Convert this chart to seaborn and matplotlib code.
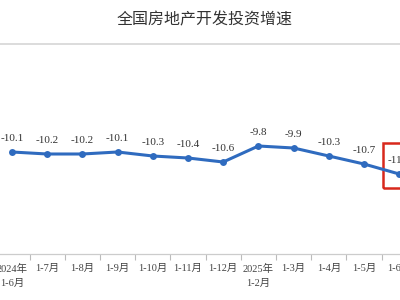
import matplotlib
matplotlib.use("Agg")
import matplotlib.pyplot as plt
import seaborn as sns
import pandas as pd
from matplotlib.patches import Rectangle
from matplotlib.lines import Line2D

categories = ["2024年\n1-6月", "1-7月", "1-8月", "1-9月", "1-10月", "1-11月",
              "1-12月", "2025年\n1-2月", "1-3月", "1-4月", "1-5月", "1-6月"]
values = [-10.1, -10.2, -10.2, -10.1, -10.3, -10.4, -10.6, -9.8, -9.9, -10.3, -10.7, -11.2]
title = "全国房地产开发投资增速"

df = pd.DataFrame({"idx": range(len(categories)), "val": values})

sns.set_theme(style="white")
plt.rcParams['font.family'] = ['Liberation Serif', 'Noto Sans CJK SC', 'DejaVu Sans']

W, H = 400, 300
fig = plt.figure(figsize=(4, 3), dpi=100)
fig.patch.set_facecolor("white")

# axes: bottom at y=254px, top at y=45px
ax = fig.add_axes([0, (H - 254) / H, 1, (254 - 45) / H])
ax.set_facecolor("white")

sns.lineplot(data=df, x="idx", y="val", ax=ax, color="#2f6bbf", linewidth=2.2,
             marker="o", markersize=5, markeredgewidth=0, legend=False)

for i, v in enumerate(values):
    ax.annotate(f"{v:.1f}", (i, v), xytext=(0, 6.5), textcoords="offset points",
                ha="center", va="bottom", fontsize=8, color="#333333",
                family=['Liberation Serif'])

ax.set_xticks([i + 0.5 for i in range(len(categories))])
ax.set_xticklabels([])
ax.tick_params(axis="x", which="major", direction="out", length=4, width=0.8,
               color="#bbbbbb", bottom=True)
ax.set_xticks(range(len(categories)), minor=True)
ax.set_xticklabels(categories, minor=True, fontsize=7.5, color="#444444",
                   family=['Liberation Serif', 'Noto Sans CJK SC'], linespacing=1.7)
ax.tick_params(axis="x", which="minor", length=0, pad=7)
ax.set_yticks([])
ax.set_xlabel("")
ax.set_ylabel("")
for s in ["top", "left", "right"]:
    ax.spines[s].set_visible(False)
ax.spines["bottom"].set_color("#cccccc")
ax.spines["bottom"].set_linewidth(0.9)

# red highlight box
ax.add_patch(Rectangle((11 - 16 / 35.2, -11.2 - (188 - 174) / 20), 2.0, (188 - 143) / 20,
                       fill=False, edgecolor="#d8281c", linewidth=1.8, clip_on=False))

ax.set_autoscale_on(False)
ax.set_xlim(-12 / 35.2, (400 - 12) / 35.2)
ax.set_ylim(-15.2, -4.75)

# title and header line
fig.text(205 / W, 1 - 20 / H, title, ha="center", va="center", fontsize=11.5,
         color="#333333", family=['Noto Sans CJK SC'], fontweight="medium")
fig.add_artist(Line2D([0, 1], [1 - 44 / H, 1 - 44 / H], color="#d5d5d5", linewidth=1.2))
fig.text(6 / W, 1 - 27 / H, "（%）", ha="right", va="center", fontsize=8,
         color="#555555", family=['Noto Sans CJK SC'])

fig.savefig("out.png", dpi=100)
